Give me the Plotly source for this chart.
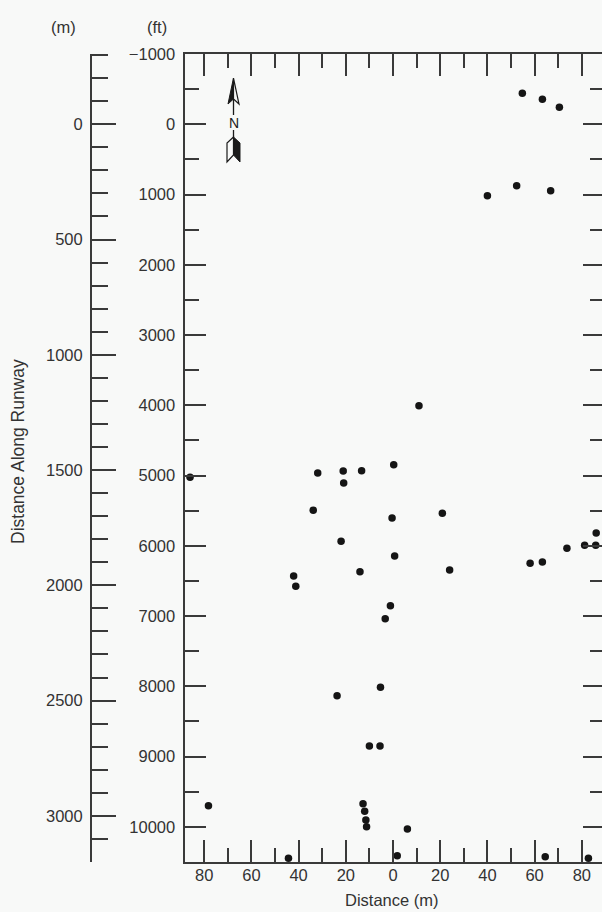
import plotly.graph_objects as go

# ---------------- data ----------------
# lateral offset from runway centreline in metres (negative = left side)
offset_m = [54.8, 63.3, 70.5, 40.0, 52.4, 66.8, 89.0,
            11.0, -86.0, -31.9, -21.1, -13.3, -20.9, 0.3,
            -33.8, -0.4, 20.9, -22.0, 0.7, -42.1, -41.2, -14.0, 24.0,
            -1.1, -3.3, 58.1, 63.3, 73.7, 81.2, 85.9, 86.1,
            -23.7, -5.3, -10.0, -5.5, -78.2, -12.7, -12.0, -11.5, -11.2,
            6.1, -44.3, 1.8, 64.5, 82.8]
# distance along runway in feet
along_ft = [-440, -355, -241, 1017, 874, 946, 1064,
            4006, 5025, 4963, 4935, 4931, 5106, 4845,
            5494, 5604, 5537, 5936, 6145, 6429, 6576, 6368, 6344,
            6852, 7037, 6249, 6230, 6035, 5993, 5993, 5817,
            8133, 8014, 8849, 8849, 9699, 9670, 9778, 9902, 9998,
            10030, 10447, 10412, 10425, 10447]

x_tickvals = [-80, -60, -40, -20, 0, 20, 40, 60, 80]
x_ticktext = ["80", "60", "40", "20", "0", "20", "40", "60", "80"]
ft_tickvals = [-1000, 0, 1000, 2000, 3000, 4000, 5000, 6000, 7000, 8000, 9000, 10000]
ft_ticktext = ["\u22121000", "0", "1000", "2000", "3000", "4000", "5000",
               "6000", "7000", "8000", "9000", "10000"]
m_tickvals = [0, 500, 1000, 1500, 2000, 2500, 3000]
m_ticktext = ["0", "500", "1000", "1500", "2000", "2500", "3000"]
m_minor = list(range(-300, 3101, 100))
FT_PER_M = 3.28084

# ---------------- styling ----------------
W, H = 602, 912
BG = "#f8f9f8"
INK = "#3a3a3a"
TXT = "#333333"
FONT = "Liberation Sans, Arial, Helvetica, sans-serif"

def pxx(x):
    return x / W

def pyy(y):
    return 1 - y / H

plot_left, plot_top, plot_bottom = 184.5, 54, 862
x_range = [-88.35, 88.56]
ft_range = [10500, -1000]
m_range = [ft_range[0] / FT_PER_M, ft_range[1] / FT_PER_M]

fig = go.Figure()
fig.add_trace(go.Scatter(
    x=offset_m, y=along_ft, mode="markers",
    marker=dict(size=7.5, color="#151515"),
    cliponaxis=False, showlegend=False, hoverinfo="skip"))
# invisible companions so the metre axis and the right-hand tick axis are drawn
fig.add_trace(go.Scatter(
    x=offset_m, y=[v / FT_PER_M for v in along_ft], yaxis="y2", mode="markers",
    marker=dict(size=1, opacity=0), showlegend=False, hoverinfo="skip"))
fig.add_trace(go.Scatter(
    x=offset_m, y=along_ft, yaxis="y3", mode="markers",
    marker=dict(size=1, opacity=0), showlegend=False, hoverinfo="skip"))

tick_common = dict(tickcolor=INK, tickwidth=1.7, showgrid=False, zeroline=False,
                   automargin=False)
minor_ft = list(range(-500, 10001, 1000))

fig.update_layout(
    width=W, height=H, autosize=False,
    margin=dict(l=0, r=0, t=0, b=0, pad=0, autoexpand=False),
    paper_bgcolor=BG, plot_bgcolor=BG,
    font=dict(family=FONT, color=TXT, size=16),
    showlegend=False,
    xaxis=dict(
        domain=[pxx(plot_left), 1], range=x_range, anchor="y",
        showline=True, linecolor=INK, linewidth=2, mirror="ticks",
        ticks="inside", ticklen=22, tickvals=x_tickvals, ticktext=x_ticktext,
        tickfont=dict(size=16.5, color=TXT), ticklabelstandoff=-3,
        minor=dict(ticks="inside", tickmode="array",
                   tickvals=list(range(-80, 81, 10)), ticklen=14,
                   tickcolor=INK, tickwidth=1.7),
        **tick_common),
    yaxis=dict(
        domain=[pyy(plot_bottom), pyy(plot_top)], range=ft_range, anchor="x",
        showline=True, linecolor=INK, linewidth=2,
        ticks="inside", ticklen=21, tickvals=ft_tickvals, ticktext=ft_ticktext,
        tickfont=dict(size=16.5, color=TXT), ticklabelstandoff=4,
        minor=dict(ticks="inside", tickmode="array", tickvals=minor_ft,
                   ticklen=14, tickcolor=INK, tickwidth=1.7),
        **tick_common),
    yaxis2=dict(
        overlaying="y", anchor="free", position=pxx(91), side="left",
        range=m_range, showline=True, linecolor=INK, linewidth=2,
        ticks="inside", ticklen=24, tickvals=m_tickvals, ticktext=m_ticktext,
        tickfont=dict(size=16.5, color=TXT), ticklabelstandoff=4,
        minor=dict(ticks="inside", tickmode="array", tickvals=m_minor,
                   ticklen=16, tickcolor=INK, tickwidth=1.7),
        **tick_common),
    yaxis3=dict(
        overlaying="y", anchor="x", side="right", range=ft_range,
        showline=False, showticklabels=False,
        ticks="inside", ticklen=19, tickvals=ft_tickvals,
        minor=dict(ticks="inside", tickmode="array", tickvals=minor_ft,
                   ticklen=12, tickcolor=INK, tickwidth=1.7),
        **tick_common),
)

# axis titles / units
ann = [
    dict(text="(m)", x=pxx(63), y=pyy(27)),
    dict(text="(ft)", x=pxx(157), y=pyy(27)),
    dict(text="Distance Along Runway", x=pxx(18), y=pyy(452), textangle=-90,
         font=dict(size=17.5, color=TXT)),
    dict(text="Distance (m)", x=pxx(392), y=pyy(900)),
    dict(text="N", x=pxx(233.5), y=pyy(123), font=dict(size=14, color="#222222")),
]
for a in ann:
    a.setdefault("font", dict(size=16.5, color=TXT))
    fig.add_annotation(xref="paper", yref="paper", showarrow=False,
                       xanchor="center", yanchor="middle", **a)

# north arrow decoration
def path(points):
    return "M " + " L ".join(f"{pxx(x):.5f},{pyy(y):.5f}" for x, y in points) + " Z"

shapes = [
    dict(type="path", path=path([(233.5, 78), (228, 104), (233.5, 99)]),
         fillcolor="#1a1a1a", line=dict(color="#1a1a1a", width=1)),
    dict(type="path", path=path([(233.5, 78), (239, 104), (233.5, 99)]),
         fillcolor="rgba(0,0,0,0)", line=dict(color="#1a1a1a", width=1.2)),
    dict(type="line", x0=pxx(233.5), x1=pxx(233.5), y0=pyy(99), y1=pyy(115),
         line=dict(color="#1a1a1a", width=1.3)),
    dict(type="line", x0=pxx(233.5), x1=pxx(233.5), y0=pyy(130), y1=pyy(138),
         line=dict(color="#1a1a1a", width=1.3)),
    dict(type="path", path=path([(233.5, 137), (240, 143), (240, 162), (233.5, 155)]),
         fillcolor="#1a1a1a", line=dict(color="#1a1a1a", width=1)),
    dict(type="path", path=path([(233.5, 137), (227, 143), (227, 162), (233.5, 155)]),
         fillcolor="rgba(0,0,0,0)", line=dict(color="#1a1a1a", width=1.2)),
]
for s in shapes:
    fig.add_shape(xref="paper", yref="paper", layer="above", **s)

fig.write_html(
    "out.html",
    config={"displayModeBar": False, "responsive": False},
    post_script="document.body.style.margin='0';document.body.style.overflow='hidden';"
                "document.documentElement.style.background='" + BG + "';"
                "var g=document.getElementById('{plot_id}');"
                "g.style.position='fixed';g.style.left='0px';g.style.top='0px';",
)
